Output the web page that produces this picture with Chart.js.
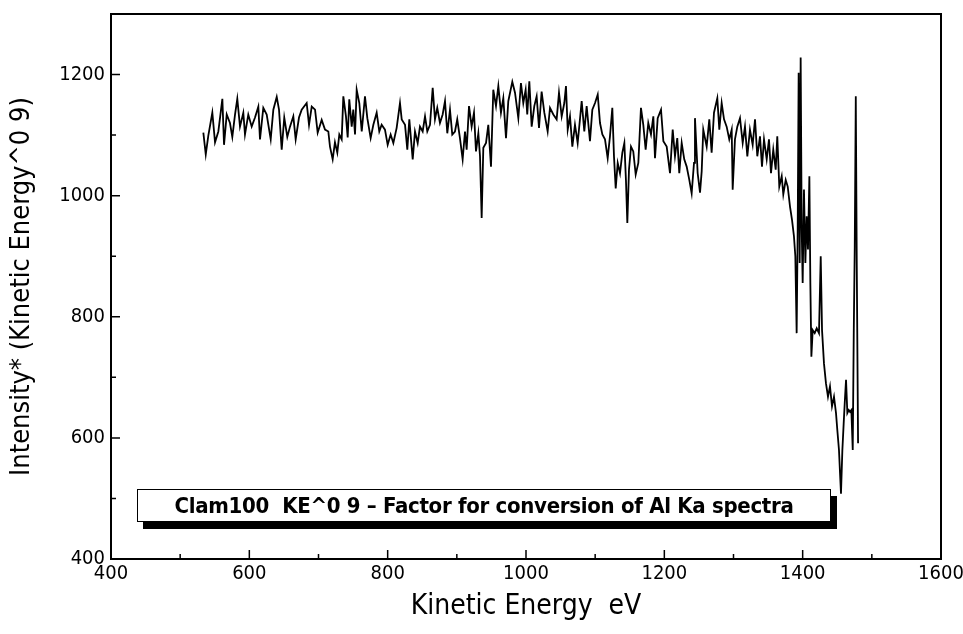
<!DOCTYPE html>
<html>
<head>
<meta charset="utf-8">
<script src="https://cdn.jsdelivr.net/npm/chart.js@4"></script>
<style>
  html, body { margin: 0; padding: 0; background: #fff; }
  #wrap { position: relative; width: 963px; height: 634px; }
  #note {
    position: absolute; left: 137px; top: 489px; width: 692px; height: 31px;
    border: 1px solid #000; background: #fff; box-shadow: 6px 7px 0 #000;
    font-family: 'Liberation Sans Narrow', 'DejaVu Sans Condensed', 'Liberation Sans', sans-serif;
    font-weight: bold; font-size: 22px; line-height: 31px; text-align: center;
    letter-spacing: -0.3px; color: #000;
  }
</style>
</head>
<body>
<div id="wrap">
  <canvas id="myChart" width="963" height="634"></canvas>
  <div id="note">Clam100&nbsp; KE^0 9 – Factor for conversion of Al Ka spectra</div>
</div>
<script>
// values
const energies = [
  533.5, 537, 540.7, 546.5, 550.4, 555.2, 561, 563.4, 567.3, 572, 575.4, 579.3, 582.6, 586.5, 591.3, 593.7,
  598.5, 603.4, 608.2, 613, 615.4, 620.2, 625.1, 630.9, 634.7, 639.6, 642.9, 646.8, 650.5, 654.9, 658.8, 663.6,
  667, 671.8, 675.7, 682.9, 686.3, 690.2, 695, 698.8, 704.6, 709.4, 714.2, 716.6, 720.5, 723.8, 727.2, 730.1,
  733.5, 735.9, 739.7, 742.2, 744.5, 748, 750.3, 752.8, 755.2, 759, 762.5, 767.2, 770.6, 775.4, 779.3, 784.1,
  787.9, 791.3, 796.1, 800, 804.3, 808.2, 813, 817.8, 820.3, 825.1, 828.4, 831.3, 836.2, 839.5, 843.4, 846.7,
  850.6, 854, 857.3, 861.2, 865.1, 868.4, 871.7, 875.6, 879.5, 882.9, 886.2, 890.1, 893.4, 897.3, 900.6, 904.5,
  908.4, 911.8, 914.2, 917.6, 921.4, 924.8, 927.7, 931.1, 933.5, 935.9, 938.3, 942.2, 945.5, 949.4, 952.7, 956.6,
  960, 963.8, 967.2, 971.1, 974.4, 980.2, 984.1, 988.9, 992.7, 996.1, 999.5, 1001.8, 1004.8, 1008.2, 1012, 1015.4,
  1018.8, 1022.6, 1026.5, 1031.3, 1034.7, 1039.5, 1044.3, 1047.7, 1051.6, 1055.4, 1057.8, 1060.3, 1063.6, 1067, 1070.8, 1074.7,
  1078, 1080.5, 1084.3, 1087.7, 1092.5, 1095.9, 1099.8, 1103.7, 1107, 1110.4, 1114.2, 1118.1, 1121.4, 1124.8, 1127.2, 1129.7,
  1132.6, 1135.9, 1139.3, 1142.2, 1144.5, 1146.5, 1148.9, 1151.8, 1155.1, 1158.6, 1162.4, 1166.2, 1169.6, 1173, 1176.8, 1180.7,
  1184.1, 1186.5, 1190.4, 1195.2, 1198.6, 1203.4, 1208.2, 1212.1, 1215.4, 1218.7, 1221.6, 1225.1, 1228.8, 1232.3, 1236.1, 1239.5,
  1242.9, 1244.3, 1248.2, 1251.6, 1254, 1256.3, 1261.2, 1265, 1268.4, 1271.8, 1276.6, 1279.5, 1282.9, 1286.3, 1290.1, 1293.9,
  1297.4, 1298.8, 1302.1, 1305.5, 1309.4, 1313.3, 1316.6, 1320, 1323.8, 1327.7, 1331.1, 1334.4, 1338.3, 1341.2, 1344.1, 1348,
  1351.3, 1354.2, 1357.5, 1361, 1363.3, 1366.2, 1369.7, 1372, 1375.5, 1378.4, 1381.7, 1384.6, 1387.4, 1389.4, 1391.3, 1392.8,
  1394.2, 1395.7, 1397.1, 1398.6, 1400, 1401.9, 1403.9, 1405.8, 1407.7, 1409.7, 1411.1, 1412.6, 1414.5, 1417.4, 1420.3, 1423.6,
  1426.1, 1428, 1430.8, 1433.7, 1436.6, 1439.5, 1442.4, 1445.3, 1448.2, 1450.1, 1452.5, 1454, 1455.4, 1457.4, 1459.3, 1461.3,
  1462.7, 1464.6, 1466.6, 1468.5, 1470.4, 1472.4, 1473.9, 1475.3, 1476.8, 1478.2, 1480.1
];
const intensities = [
  1104, 1068, 1099, 1137, 1088, 1106, 1160, 1084, 1134, 1120, 1097, 1134, 1160, 1114, 1137, 1101,
  1134, 1114, 1129, 1147, 1093, 1145, 1134, 1093, 1142, 1163, 1142, 1076, 1129, 1097, 1114, 1131,
  1093, 1129, 1142, 1153, 1117, 1147, 1142, 1104, 1125, 1109, 1106, 1081, 1060, 1088, 1071, 1101,
  1093, 1164, 1131, 1096, 1159, 1114, 1142, 1101, 1175, 1153, 1106, 1164, 1128, 1095, 1117, 1137,
  1106, 1117, 1109, 1084, 1101, 1087, 1112, 1153, 1126, 1117, 1076, 1126, 1060, 1106, 1087, 1114,
  1106, 1131, 1106, 1117, 1178, 1126, 1145, 1120, 1134, 1156, 1103, 1142, 1101, 1106, 1126, 1095,
  1060, 1106, 1076, 1148, 1114, 1137, 1073, 1103, 1065, 963, 1079, 1087, 1117, 1048, 1175, 1148,
  1181, 1137, 1161, 1095, 1156, 1188, 1170, 1128, 1186, 1153, 1175, 1134, 1189, 1114, 1148, 1164,
  1112, 1172, 1137, 1106, 1145, 1134, 1126, 1170, 1131, 1153, 1181, 1109, 1131, 1081, 1117, 1087,
  1126, 1156, 1106, 1148, 1090, 1142, 1153, 1167, 1120, 1101, 1093, 1062, 1098, 1145, 1065, 1012,
  1054, 1037, 1071, 1087, 1026, 955, 1043, 1081, 1073, 1035, 1054, 1145, 1117, 1076, 1120, 1101,
  1131, 1062, 1128, 1142, 1090, 1081, 1037, 1109, 1065, 1095, 1037, 1087, 1060, 1048, 1026, 1004,
  1054, 1128, 1037, 1005, 1040, 1109, 1081, 1126, 1071, 1137, 1161, 1109, 1153, 1126, 1114, 1093,
  1109, 1010, 1093, 1114, 1128, 1087, 1114, 1065, 1109, 1084, 1126, 1065, 1098, 1048, 1093, 1060,
  1093, 1037, 1076, 1043, 1098, 1015, 1032, 1002, 1026, 1015, 982, 960, 933, 900, 773, 944,
  1203, 889, 1228, 944, 856, 1010, 889, 966, 911, 1032, 856, 734, 778, 773, 781, 773,
  900, 778, 723, 690, 668, 685, 652, 668, 641, 613, 580, 542, 508, 580, 624, 668,
  696, 641, 646, 643, 646, 580, 778, 916, 1164, 889, 591
];
const xTicks = [400, 600, 800, 1000, 1200, 1400, 1600];
const yTicks = [400, 600, 800, 1000, 1200];
const xMinor = [500, 700, 900, 1100, 1300, 1500];
const yMinor = [500, 700, 900, 1100];

const points = energies.map((e, i) => ({ x: e, y: intensities[i] }));
const narrow = "'Liberation Sans Narrow', 'DejaVu Sans Condensed', 'Liberation Sans', sans-serif";

// frame + inward tick marks
const frame = {
  id: 'frame',
  afterDraw(chart) {
    const { ctx, chartArea: a, scales } = chart;
    ctx.save();
    ctx.strokeStyle = '#000';
    ctx.lineWidth = 2;
    ctx.strokeRect(a.left, a.top, a.right - a.left, a.bottom - a.top);
    ctx.lineWidth = 1.5;
    ctx.beginPath();
    xTicks.forEach(v => { const p = scales.x.getPixelForValue(v); ctx.moveTo(p, a.bottom); ctx.lineTo(p, a.bottom - 9); });
    xMinor.forEach(v => { const p = scales.x.getPixelForValue(v); ctx.moveTo(p, a.bottom); ctx.lineTo(p, a.bottom - 5); });
    yTicks.forEach(v => { const p = scales.y.getPixelForValue(v); ctx.moveTo(a.left, p); ctx.lineTo(a.left + 9, p); });
    yMinor.forEach(v => { const p = scales.y.getPixelForValue(v); ctx.moveTo(a.left, p); ctx.lineTo(a.left + 5, p); });
    ctx.stroke();
    ctx.restore();
  }
};

new Chart(document.getElementById('myChart'), {
  type: 'scatter',
  data: {
    datasets: [{
      data: points,
      showLine: true,
      borderColor: '#000',
      borderWidth: 1.8,
      pointRadius: 0,
      tension: 0
    }]
  },
  options: {
    responsive: false,
    animation: false,
    layout: { padding: { top: 14, right: 22, left: 0, bottom: 0 } },
    plugins: { legend: { display: false }, tooltip: { enabled: false } },
    scales: {
      x: {
        type: 'linear', min: 400, max: 1600,
        afterBuildTicks: s => { s.ticks = xTicks.map(v => ({ value: v })); },
        afterFit: s => { s.height = 75; s.paddingLeft = 0; s.paddingRight = 0; },
        grid: { display: false, drawTicks: false },
        border: { display: false },
        ticks: { color: '#000', padding: 3, maxRotation: 0, callback: v => String(v), font: { family: narrow, size: 20 } },
        title: { display: true, text: 'Kinetic Energy  eV', color: '#000', padding: { top: 0, bottom: 10 }, font: { family: narrow, size: 28 } }
      },
      y: {
        type: 'linear', min: 400, max: 1300,
        afterBuildTicks: s => { s.ticks = yTicks.map(v => ({ value: v })); },
        afterFit: s => { s.width = 111; s.paddingTop = 0; s.paddingBottom = 0; },
        grid: { display: false, drawTicks: false },
        border: { display: false },
        ticks: { color: '#000', padding: 6, callback: v => String(v), font: { family: narrow, size: 20 } },
        title: { display: true, text: 'Intensity* (Kinetic Energy^0 9)', color: '#000', padding: { top: 6, bottom: 0 }, font: { family: narrow, size: 27 } }
      }
    }
  },
  plugins: [frame]
});
</script>
</body>
</html>
